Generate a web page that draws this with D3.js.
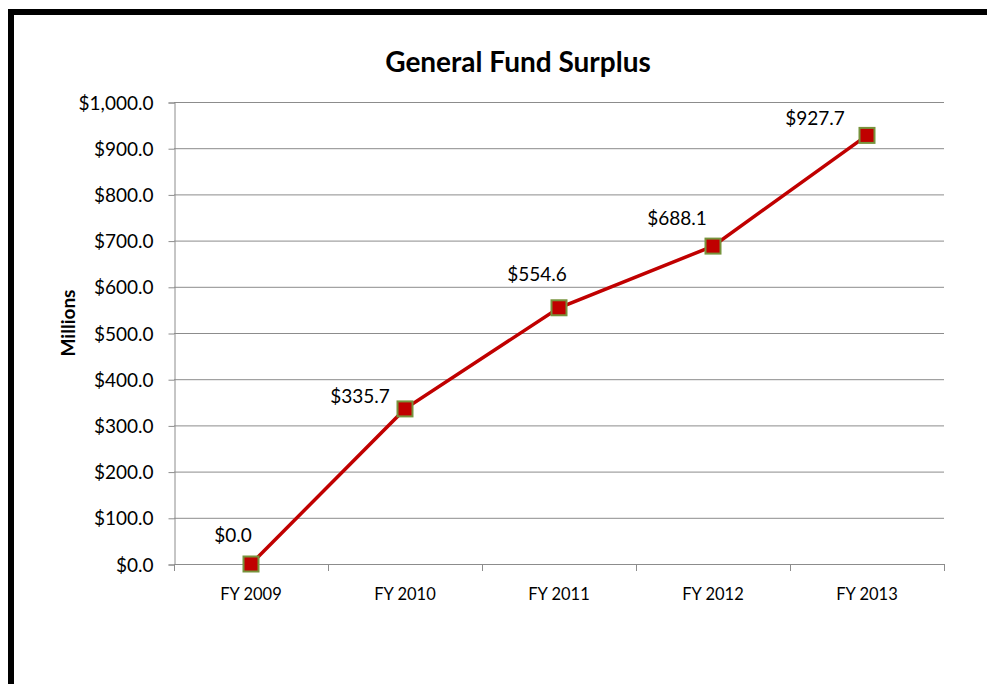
<!DOCTYPE html>
<html>
<head>
<meta charset="utf-8">
<script src="https://cdn.jsdelivr.net/npm/d3@7"></script>
<style>
  body { margin: 0; background: #fff; }
  svg, svg text { font-family: Lato, "Open Sans", sans-serif; }
  svg { display: block; }
</style>
</head>
<body>
<div id="chart"></div>
<script>
// Chart data
const years = ["FY 2009", "FY 2010", "FY 2011", "FY 2012", "FY 2013"];
const surplus = [0.0, 335.7, 554.6, 688.1, 927.7];
const yTicks = [0, 100, 200, 300, 400, 500, 600, 700, 800, 900, 1000];

// Hand-placed label nudges (label centre relative to point), like the original
const labelNudge = [[-18, -29], [-45, -13], [-22, -33], [-36, -28], [-52, -17]];

const width = 987;
const height = 684;
const plot = { left: 174, right: 944, top: 102, bottom: 564 };

const svg = d3.select("#chart")
    .append("svg")
    .attr("width", width)
    .attr("height", height);

svg.append("rect")
    .attr("width", width)
    .attr("height", height)
    .attr("fill", "#fff");

// Chart frame (runs off the right and bottom edge)
svg.append("rect")
    .attr("x", 11)
    .attr("y", 12)
    .attr("width", 1100)
    .attr("height", 800)
    .attr("fill", "none")
    .attr("stroke", "#000")
    .attr("stroke-width", 6);

// Scales
const x = d3.scaleBand()
    .domain(years)
    .range([plot.left, plot.right]);

const y = d3.scaleLinear()
    .domain([0, 1000])
    .range([plot.bottom, plot.top]);

const money = d3.format(",.1f");

// Gridlines
svg.append("g")
    .selectAll("line")
    .data(yTicks)
    .join("line")
    .attr("x1", plot.left)
    .attr("x2", plot.right)
    .attr("y1", d => y(d) + 0.5)
    .attr("y2", d => y(d) + 0.5)
    .attr("stroke", "#8c8c8c")
    .attr("stroke-width", 1);

// Y axis
const yAxis = svg.append("g")
    .attr("transform", `translate(${plot.left + 0.5},0.5)`)
    .call(d3.axisLeft(y).tickValues(yTicks).tickSize(6).tickPadding(15)
        .tickFormat(d => "$" + money(d)))
    .attr("font-family", null)
    .attr("font-size", null);
yAxis.selectAll("line, path").attr("stroke", "#8c8c8c");
yAxis.selectAll("text")
    .attr("fill", "#000")
    .style("font-size", "19px")
    .attr("dy", "0.35em");

// X axis, ticks on band edges
const xAxis = svg.append("g")
    .attr("transform", `translate(0,${plot.bottom + 0.5})`)
    .call(d3.axisBottom(x).tickSize(0).tickPadding(24))
    .attr("font-family", null)
    .attr("font-size", null);
xAxis.select("path").attr("stroke", "#8c8c8c").attr("d", `M${plot.left},0H${plot.right}`);
xAxis.selectAll("text")
    .attr("fill", "#000")
    .style("font-size", "16.5px");

svg.append("g")
    .selectAll("line")
    .data(years.concat([null]))
    .join("line")
    .attr("x1", (d, i) => Math.round(plot.left + i * x.bandwidth()) + 0.5)
    .attr("x2", (d, i) => Math.round(plot.left + i * x.bandwidth()) + 0.5)
    .attr("y1", plot.bottom)
    .attr("y2", plot.bottom + 7)
    .attr("stroke", "#8c8c8c");

// Line
const line = d3.line()
    .x((d, i) => x(years[i]) + x.bandwidth() / 2)
    .y(d => y(d));

svg.append("path")
    .datum(surplus)
    .attr("d", line)
    .attr("fill", "none")
    .attr("stroke", "#c00000")
    .attr("stroke-width", 3.5);

// Square markers
svg.append("g")
    .selectAll("rect")
    .data(surplus)
    .join("rect")
    .attr("x", (d, i) => x(years[i]) + x.bandwidth() / 2 - 7.5)
    .attr("y", d => y(d) - 7.5)
    .attr("width", 15)
    .attr("height", 15)
    .attr("fill", "#c00000")
    .attr("stroke", "#77933c")
    .attr("stroke-width", 2);

// Data labels
svg.append("g")
    .selectAll("text")
    .data(surplus)
    .join("text")
    .attr("x", (d, i) => x(years[i]) + x.bandwidth() / 2 + labelNudge[i][0])
    .attr("y", (d, i) => y(d) + labelNudge[i][1])
    .attr("dy", "0.35em")
    .attr("text-anchor", "middle")
    .style("font-size", "19px")
    .text(d => "$" + money(d));

// Title
svg.append("text")
    .attr("x", 518)
    .attr("y", 72)
    .attr("text-anchor", "middle")
    .style("font-size", "28px")
    .style("font-weight", "bold")
    .text("General Fund Surplus");

// Y axis title
svg.append("text")
    .attr("transform", `translate(75,${(plot.top + plot.bottom) / 2 - 10}) rotate(-90)`)
    .attr("text-anchor", "middle")
    .style("font-size", "19px")
    .style("font-weight", "bold")
    .text("Millions");
</script>
</body>
</html>
